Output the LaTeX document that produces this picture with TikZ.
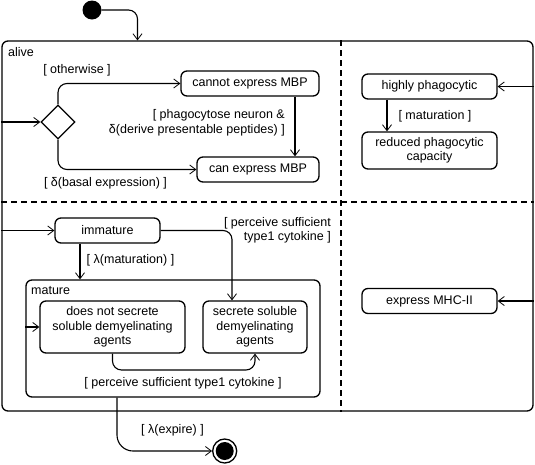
\documentclass[tikz,border=0pt]{standalone}
\usepackage{fontspec}
\setmainfont{Liberation Sans}
\usetikzlibrary{arrows.meta,shapes.geometric}
\begin{document}
\begin{tikzpicture}[x=1pt,y=-1pt,
  txt/.style={font=\fontsize{12.5}{14.5}\selectfont},
  state/.style={draw, rounded corners=6pt, line width=1.3pt, align=center, inner sep=0pt, txt},
  region/.style={draw, rounded corners=6pt, line width=1.3pt, inner sep=0pt},
  lbl/.style={txt, inner sep=0pt},
  tr/.style={draw, line width=1.1pt, rounded corners=9pt, -{Straight Barb[length=6pt,width=9pt,line width=0.8pt]}},
  sep/.style={draw, line width=1.2pt, dash pattern=on 6pt off 4pt}
]
\useasboundingbox (0,0) rectangle (535,464);

% initial and final
\node[circle, fill=black, minimum size=19pt, inner sep=0pt] (init) at (92,10) {};
\node[circle, draw, line width=1.3pt, minimum size=24pt, inner sep=0pt] (final) at (224.7,451) {};
\fill (final) circle (9pt);

% alive composite
\node[region, minimum width=531pt, minimum height=370pt] (alive) at (267.5,226) {};
\node[lbl, anchor=west] (alivelbl) at (8,52) {alive};
\coordinate (v341) at (341,0);
\coordinate (h202) at (0,202);
\draw[sep] (alive.north -| v341) -- (alive.south -| v341);
\draw[sep] (alive.west |- h202) -- (alive.east |- h202);

% entry from initial
\coordinate (x137) at (137.5,0);
\draw[tr] (init.east) -| (alive.north -| x137);

% upper left region
\node[diamond, draw, line width=1.3pt, minimum width=34pt, minimum height=34pt, inner sep=0pt, aspect=1] (diam) at (58,122) {};
\node[state, minimum width=138pt, minimum height=25pt] (cannot) at (250,83.5) {cannot express MBP};
\node[state, minimum width=122pt, minimum height=25pt] (can) at (258,169.5) {can express MBP};
\draw[tr] (alive.west |- diam) -- (diam.west);
\draw[tr] (diam.north) |- (cannot.west);
\draw[tr] (diam.south) |- (can.west);
\coordinate (x295) at (295,0);
\draw[tr] (cannot.south -| x295) -- (can.north -| x295);
\node[lbl] (lotherwise) at (77,70) {[ otherwise ]};
\node[lbl] (lbasal) at (105.5,183.5) {[ δ(basal expression) ]};
\node[lbl, align=right, anchor=east] (lphago) at (285,123) {[ phagocytose neuron \&\\δ(derive presentable peptides) ]};

% upper right region
\node[state, minimum width=135pt, minimum height=25pt] (highly) at (429.5,86.5) {highly phagocytic};
\node[state, minimum width=135pt, minimum height=37pt] (reduced) at (429.5,150.5) {reduced phagocytic\\capacity};
\draw[tr] (alive.east |- highly) -- (highly.east);
\coordinate (x387) at (387,0);
\draw[tr] (highly.south -| x387) -- (reduced.north -| x387);
\node[lbl] (lmat) at (435,116) {[ maturation ]};

% lower left region
\node[state, minimum width=105pt, minimum height=25pt] (immature) at (107.5,230.5) {immature};
\node[region, minimum width=294pt, minimum height=117pt] (mature) at (173,338.5) {};
\node[lbl, anchor=west] (maturelbl) at (31,291) {mature};
\node[state, minimum width=145pt, minimum height=52pt] (dns) at (112.5,327) {does not secrete\\soluble demyelinating\\agents};
\node[state, minimum width=104pt, minimum height=52pt] (sec) at (255,327) {secrete soluble\\demyelinating\\agents};
\draw[tr] (alive.west |- immature) -- (immature.west);
\coordinate (x80) at (80,0);
\draw[tr] (immature.south -| x80) -- (mature.north -| x80);
\node[lbl] (llmat) at (130.5,260) {[ λ(maturation) ]};
\coordinate (x232) at (232,0);
\draw[tr] (immature.east) -| (sec.north -| x232);
\node[lbl, align=right, anchor=east] (lperc1) at (331,230.5) {[ perceive sufficient\\type1 cytokine ]};
\draw[tr] (mature.west |- dns) -- (dns.west);
\coordinate (y370) at (0,370);
\draw[tr] (dns.south) -- (dns.south |- y370) -| (sec.south);
\node[lbl] (lperc2) at (183,383.5) {[ perceive sufficient type1 cytokine ]};
\coordinate (x117) at (117,0);
\draw[tr, rounded corners=16pt] (mature.south -| x117) |- (final.west);
\node[lbl] (lexpire) at (172.5,430) {[ λ(expire) ]};

% lower right region
\node[state, minimum width=135pt, minimum height=25pt] (mhc) at (429.5,301) {express MHC-II};
\draw[tr] (alive.east |- mhc) -- (mhc.east);
\end{tikzpicture}
\end{document}
